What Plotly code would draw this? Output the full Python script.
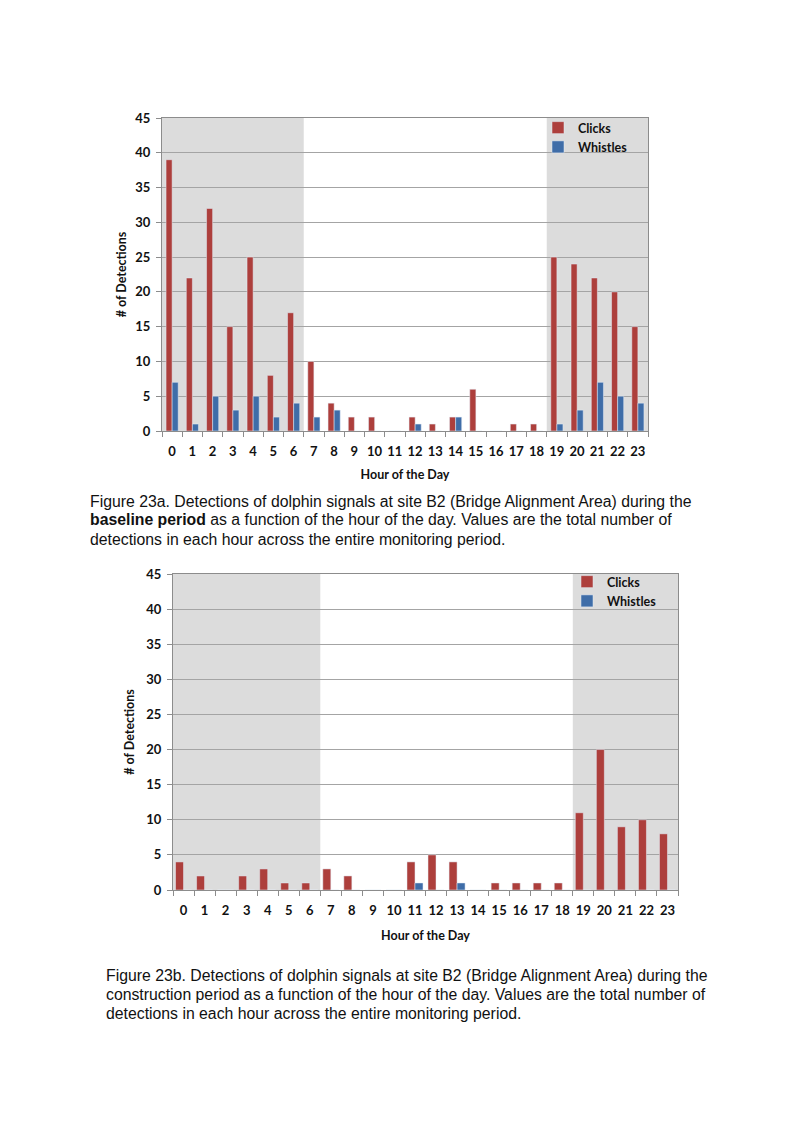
import plotly.graph_objects as go

hours = list(range(24))
hour_labels = [str(h) for h in hours]

clicks_baseline = [39, 22, 32, 15, 25, 8, 17, 10, 4, 2, 2, 0, 2, 1, 2, 6, 0, 1, 1, 25, 24, 22, 20, 15]
whistles_baseline = [7, 1, 5, 3, 5, 2, 4, 2, 3, 0, 0, 0, 1, 0, 2, 0, 0, 0, 0, 1, 3, 7, 5, 4]

clicks_construction = [4, 2, 0, 2, 3, 1, 1, 3, 2, 0, 0, 4, 5, 4, 0, 1, 1, 1, 1, 11, 20, 9, 10, 8]
whistles_construction = [0, 0, 0, 0, 0, 0, 0, 0, 0, 0, 0, 1, 0, 1, 0, 0, 0, 0, 0, 0, 0, 0, 0, 0]

y_ticks = [0, 5, 10, 15, 20, 25, 30, 35, 40, 45]
dawn_hour = 7    # first daylight hour
dusk_hour = 19   # first night hour

caption_a = [
    "Figure 23a. Detections of dolphin signals at site B2 (Bridge Alignment Area) during the",
    "<b>baseline period</b> as a function of the hour of the day. Values are the total number of",
    "detections in each hour across the entire monitoring period.",
]
caption_b = [
    "Figure 23b. Detections of dolphin signals at site B2 (Bridge Alignment Area) during the",
    "construction period as a function of the hour of the day. Values are the total number of",
    "detections in each hour across the entire monitoring period.",
]

RED = "#AD3F3C"
BLUE = "#3F6DA8"
SHADE = "#DCDCDC"
GRID = "#A4A4A4"
AXIS = "#8C8C8C"
TXT = "#111111"

OFF_X = 8                 # page margin (horizontal)
W, H = 793 - 2 * OFF_X, 1123 - 16
TOP_Y, INNER_H = 16, 1091  # observed vertical placement of the plotting area on the page


def px_x(v):
    return (v - OFF_X) / W


def px_y(v):
    return 1 - (v - TOP_Y) / INNER_H


fig = go.Figure()

panels = [
    dict(clicks=clicks_baseline, whistles=whistles_baseline, xa="x", ya="y",
         xd=[px_x(162), px_x(648)], yd=[px_y(431), px_y(118)], w=0.3,
         legend="legend", title_standoff=5, xt_standoff=12),
    dict(clicks=clicks_construction, whistles=whistles_construction, xa="x2", ya="y2",
         xd=[px_x(173), px_x(678)], yd=[px_y(890), px_y(574)], w=0.38,
         legend="legend2", title_standoff=8, xt_standoff=14),
]

tick_font = dict(family="Lato", size=13, color=TXT, weight="bold")

for i, p in enumerate(panels):
    fig.add_trace(go.Bar(x=hours, y=p["clicks"], name="Clicks", marker_color=RED,
                         width=p["w"], offset=-p["w"], xaxis=p["xa"], yaxis=p["ya"],
                         legend=p["legend"]))
    fig.add_trace(go.Bar(x=hours, y=p["whistles"], name="Whistles", marker_color=BLUE,
                         width=p["w"], offset=0, xaxis=p["xa"], yaxis=p["ya"],
                         legend=p["legend"]))
    sfx = "" if i == 0 else "2"
    fig.update_layout(**{
        "xaxis" + sfx: dict(
            domain=p["xd"], anchor="y" + sfx, range=[hours[0] - 0.5, hours[-1] + 0.5],
            tickmode="array", tickvals=hours, ticktext=hour_labels, ticks="",
            showgrid=False, zeroline=False, showline=True, linecolor=AXIS, linewidth=1,
            mirror=True, tickfont=tick_font, ticklabelstandoff=8,
            minor=dict(tick0=0.5, dtick=1, ticks="outside", ticklen=5, tickcolor=AXIS, showgrid=False),
            title=dict(text="Hour of the Day", font=dict(family="Lato", size=12.5, color=TXT, weight="bold"),
                       standoff=p["xt_standoff"]),
        ),
        "yaxis" + sfx: dict(
            domain=p["yd"], anchor="x" + sfx, range=[0, 45], tickmode="array", tickvals=y_ticks,
            ticks="outside", ticklen=5, tickcolor=AXIS, showgrid=True, gridcolor=GRID, gridwidth=1,
            zeroline=False, showline=True, linecolor=AXIS, linewidth=1, mirror=True,
            tickfont=tick_font, ticklabelstandoff=3,
            title=dict(text="# of Detections", font=dict(family="Lato", size=12.5, color=TXT, weight="bold"),
                       standoff=p["title_standoff"]),
        ),
    })
    # night shading
    fig.add_shape(type="rect", xref=p["xa"], yref=p["ya"] + " domain",
                  x0=hours[0] - 0.5, x1=dawn_hour - 0.5, y0=0, y1=1,
                  fillcolor=SHADE, line_width=0, layer="below")
    fig.add_shape(type="rect", xref=p["xa"], yref=p["ya"] + " domain",
                  x0=dusk_hour - 0.5, x1=hours[-1] + 0.5, y0=0, y1=1,
                  fillcolor=SHADE, line_width=0, layer="below")

legend_style = dict(font=dict(family="Lato", size=12.5, color=TXT, weight="bold"),
                    bgcolor="rgba(0,0,0,0)", itemwidth=30, tracegroupgap=0,
                    xanchor="left", yanchor="top")

fig.update_layout(
    width=W, height=H, margin=dict(l=0, r=0, t=0, b=0),
    paper_bgcolor="white", plot_bgcolor="white",
    barmode="group", showlegend=True,
    legend=dict(x=px_x(538), y=px_y(113), **legend_style),
    legend2=dict(x=px_x(567), y=px_y(567), **legend_style),
    font=dict(family="Lato"),
)

cap_font = dict(family="Liberation Sans", size=15.8, color=TXT)
for caption, x0, y0 in [(caption_a, 88, 501), (caption_b, 104, 975)]:
    for k, line in enumerate(caption):
        fig.add_annotation(
            xref="paper", yref="paper", x=px_x(x0), y=px_y(y0 + 19 * k),
            xanchor="left", yanchor="middle", align="left", showarrow=False,
            font=cap_font, text=line,
        )

fig.write_html("out.html")
